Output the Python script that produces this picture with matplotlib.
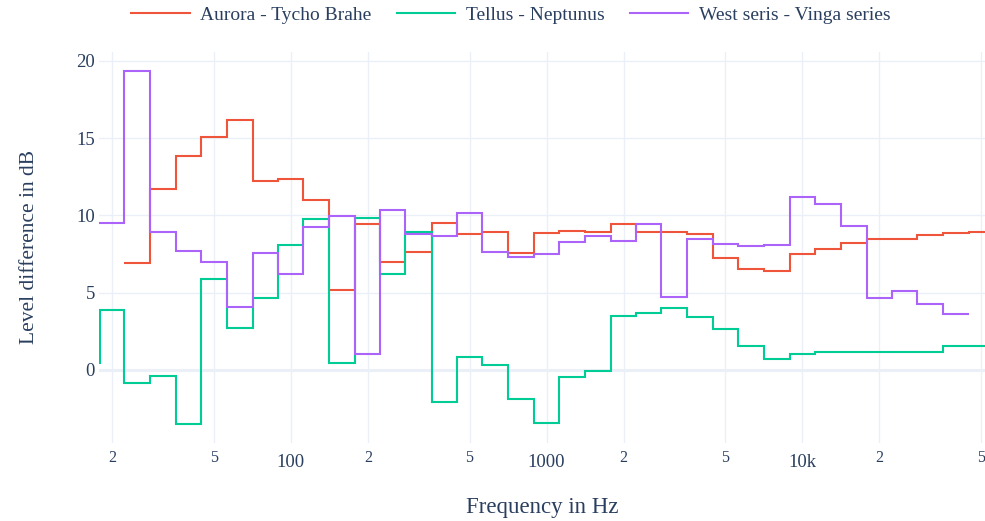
import numpy as np
import matplotlib
matplotlib.use("Agg")
import matplotlib.pyplot as plt

# third-octave band centres (Hz) and level differences (dB)
FREQ_RED = [25, 31.5, 40, 50, 63, 80, 100, 125, 160, 200, 250, 315, 400, 500, 630, 800,
            1000, 1250, 1600, 2000, 2500, 3150, 4000, 5000, 6300, 8000, 10000, 12500,
            16000, 20000, 25000, 31500, 40000, 50000]
AURORA_TYCHO = [6.9, 11.68, 13.84, 15.09, 16.16, 12.24, 12.37, 11.01, 5.17, 9.42, 7.0, 7.63,
                9.48, 8.77, 8.90, 7.59, 8.86, 8.99, 8.94, 9.44, 8.94, 8.92, 8.79, 7.24, 6.55,
                6.40, 7.48, 7.84, 8.23, 8.45, 8.45, 8.71, 8.88, 8.92]

FREQ_GREEN = [16, 20, 25, 31.5, 40, 50, 63, 80, 100, 125, 160, 200, 250, 315, 400, 500, 630,
              800, 1000, 1250, 1600, 2000, 2500, 3150, 4000, 5000, 6300, 8000, 10000, 12500,
              16000, 20000, 25000, 31500, 40000, 50000]
TELLUS_NEPTUNUS = [0.43, 3.86, -0.86, -0.39, -3.47, 5.88, 2.69, 4.63, 8.10, 9.78, 0.43, 9.85,
                   6.23, 8.92, -2.05, 0.86, 0.32, -1.90, -3.45, -0.45, -0.06, 3.49, 3.71, 4.01,
                   3.45, 2.67, 1.53, 0.73, 1.03, 1.16, 1.16, 1.16, 1.16, 1.16, 1.55, 1.55]

FREQ_PURPLE = [20, 25, 31.5, 40, 50, 63, 80, 100, 125, 160, 200, 250, 315, 400, 500, 630, 800,
               1000, 1250, 1600, 2000, 2500, 3150, 4000, 5000, 6300, 8000, 10000, 12500, 16000,
               20000, 25000, 31500, 40000]
WEST_VINGA = [9.5, 19.35, 8.94, 7.69, 6.96, 4.07, 7.59, 6.21, 9.25, 9.98, 1.01, 10.32, 8.81,
              8.69, 10.17, 7.63, 7.31, 7.5, 8.28, 8.64, 8.32, 9.46, 4.74, 8.47, 8.16, 8.04,
              8.08, 11.19, 10.75, 9.33, 4.66, 5.13, 4.29, 3.62]

SERIES = [
    ("Aurora - Tycho Brahe", FREQ_RED, AURORA_TYCHO, "#EF553B"),
    ("Tellus - Neptunus", FREQ_GREEN, TELLUS_NEPTUNUS, "#00CC96"),
    ("West seris - Vinga series", FREQ_PURPLE, WEST_VINGA, "#AB63FA"),
]

MAJOR_TICKS = [100, 1000, 10000]
MAJOR_LABELS = ["100", "1000", "10k"]
MINOR_TICKS = [20, 50, 200, 500, 2000, 5000, 20000, 50000]
MINOR_LABELS = ["2", "5", "2", "5", "2", "5", "2", "5"]
Y_TICKS = [0, 5, 10, 15, 20]

TEXT = "#2a3f5f"
GRID = "#EBF0F8"

plt.rcParams["font.family"] = ["Liberation Serif", "DejaVu Serif"]


def band_edges(centres):
    c = np.asarray(centres, dtype=float)
    mid = np.sqrt(c[:-1] * c[1:])
    return np.concatenate([[c[0] * 10 ** -0.05], mid, [c[-1] * 10 ** 0.05]])


fig = plt.figure(figsize=(9.85, 5.21), dpi=100)
ax = fig.add_axes([99 / 985, 1 - 443 / 521, 886 / 985, (443 - 51.7) / 521])

for name, freqs, vals, col in SERIES:
    ax.stairs(vals, band_edges(freqs), baseline=None, color=col, lw=1.5, label=name, zorder=3)

ax.set_xscale("log")
ax.set_xlim(10 ** 1.25, 10 ** 4.7145)
ax.set_ylim(-4.72, 20.58)

ax.set_xticks(MAJOR_TICKS)
ax.set_xticklabels(MAJOR_LABELS)
ax.set_xticks(MINOR_TICKS, minor=True)
ax.set_xticklabels(MINOR_LABELS, minor=True)
ax.set_yticks(Y_TICKS)
ax.set_yticklabels([str(v) for v in Y_TICKS])

ax.tick_params(axis="x", which="major", length=0, pad=8, labelsize=13.5, labelcolor=TEXT)
ax.tick_params(axis="x", which="minor", length=0, pad=5, labelsize=11.5, labelcolor=TEXT)
ax.tick_params(axis="y", length=0, pad=3, labelsize=13.5, labelcolor=TEXT)

ax.grid(True, which="both", axis="x", color=GRID, lw=1.0, zorder=0)
ax.grid(True, axis="y", color=GRID, lw=1.0, zorder=0)
ax.axhline(0, color=GRID, lw=2.2, zorder=1)
for s in ax.spines.values():
    s.set_visible(False)

ax.set_xlabel("Frequency in Hz", fontsize=16.5, color=TEXT, labelpad=19)
ax.set_ylabel("Level difference in dB", fontsize=15.5, color=TEXT, labelpad=27)

fig.legend(loc="center", bbox_to_anchor=(511 / 985, 1 - 15 / 521), ncol=3, frameon=False,
           fontsize=14, labelcolor=TEXT, handlelength=3.0, handletextpad=0.55,
           columnspacing=1.3)

fig.savefig("out.png", dpi=100)
